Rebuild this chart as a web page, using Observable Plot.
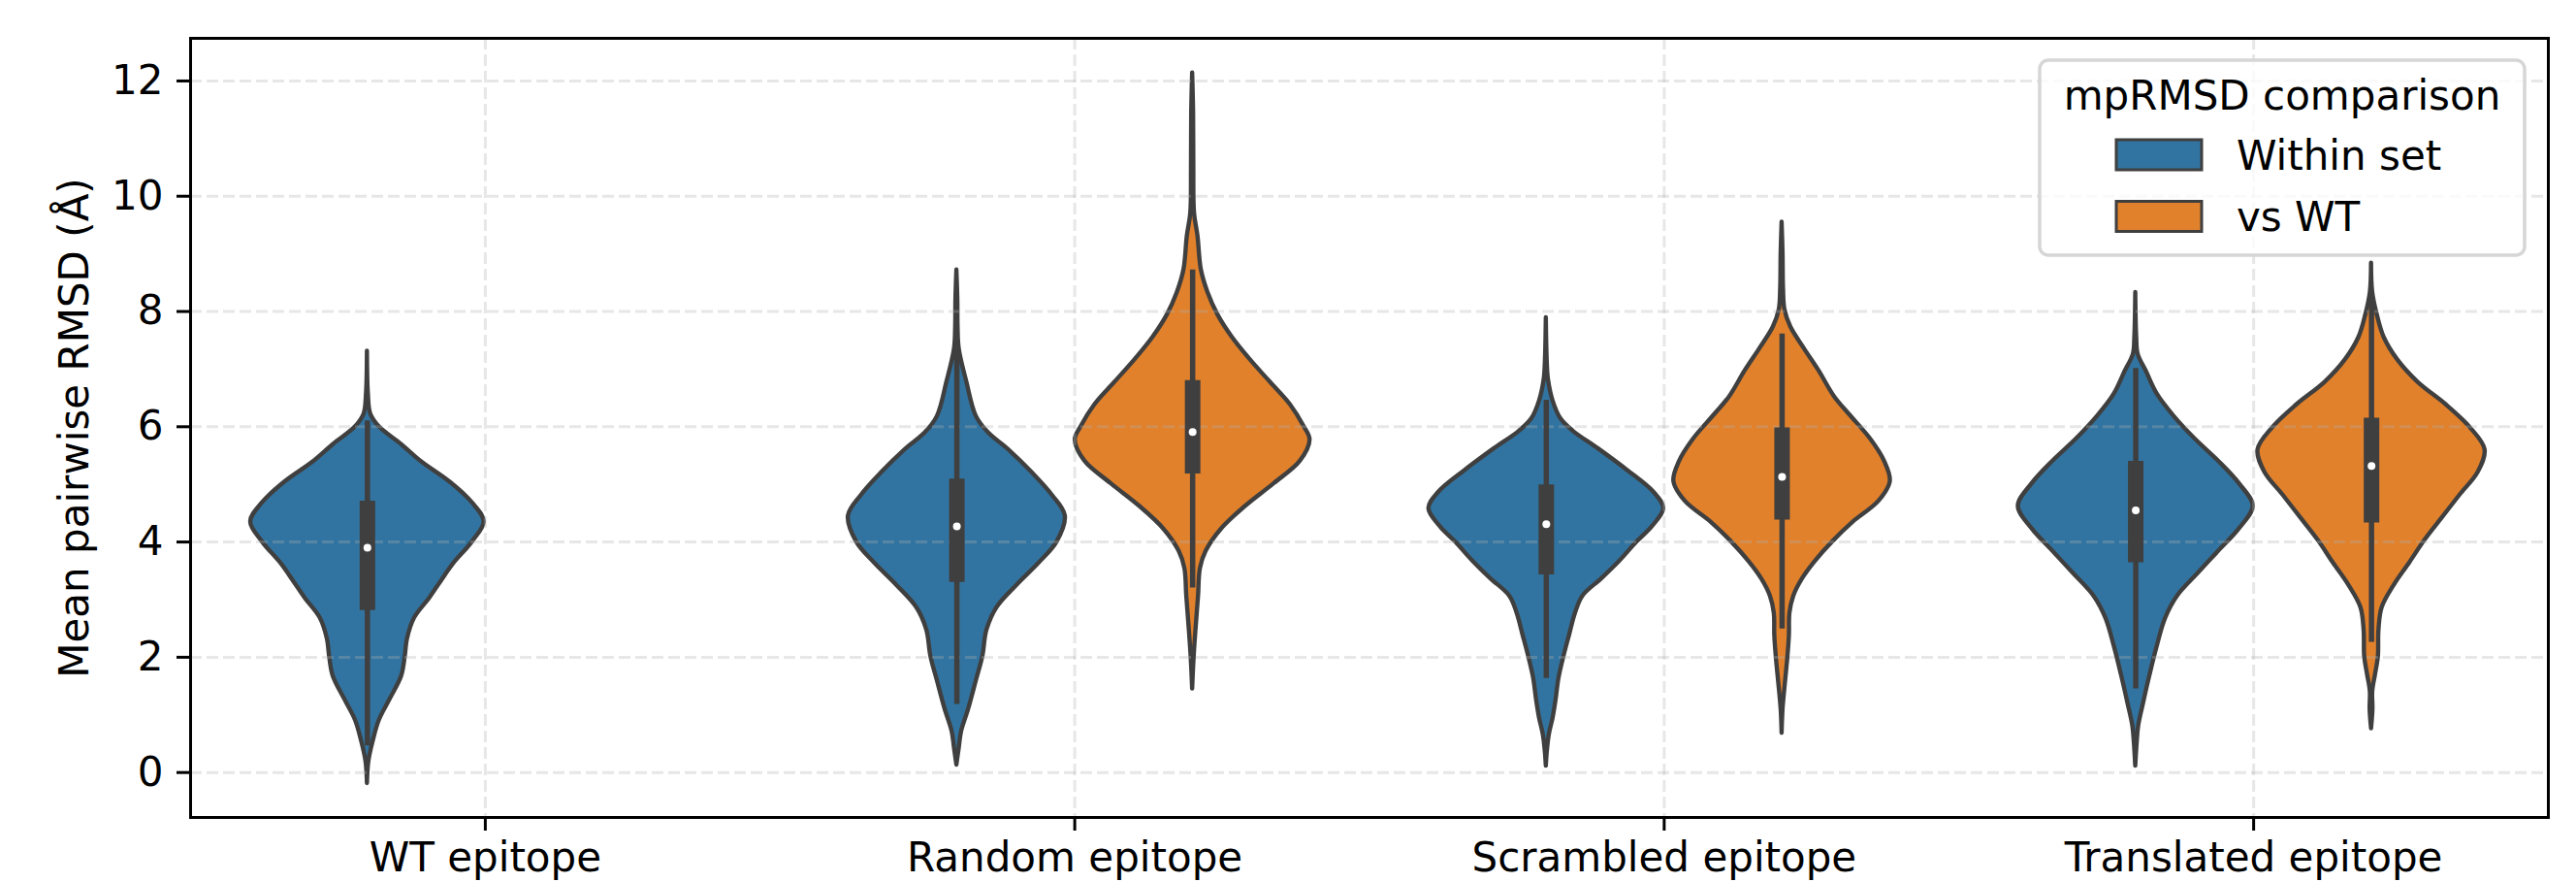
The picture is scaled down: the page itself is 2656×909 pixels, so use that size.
<!DOCTYPE html>
<html><head><meta charset="utf-8">
<script src="https://cdn.jsdelivr.net/npm/d3@7"></script>
<script src="https://cdn.jsdelivr.net/npm/@observablehq/plot@0.6"></script>
<style>
html,body{margin:0;padding:0;background:#fff;overflow:hidden}
#chart{position:relative;width:2656px;height:909px}
</style></head><body><div id="chart"></div>
<script>
// ---------- data ----------
const categories = ["WT epitope", "Random epitope", "Scrambled epitope", "Translated epitope"];
const hues = ["Within set", "vs WT"];
const hueColors = ["#3274a1", "#e1812c"];
const yTicks = [0, 2, 4, 6, 8, 10, 12];
const legendTitle = "mpRMSD comparison";
const yLabel = "Mean pairwise RMSD (Å)";

// violin outlines: [value, relative half-width (1 = widest violin)]
const wtWithin = [[7.31,0],[6.57,0.008],[6.22,0.028],[6.0,0.10],[5.69,0.29],[5.39,0.46],[5.04,0.70],[4.68,0.89],[4.35,0.99],[4.0,0.89],[3.62,0.73],[3.33,0.63],[3.03,0.53],[2.68,0.40],[2.32,0.34],[2.0,0.32],[1.67,0.29],[1.26,0.19],[0.90,0.10],[0.55,0.05],[0.19,0.012],[-0.19,0]];
const randomWithin = [[8.72,0],[8.2,0.008],[7.74,0.01],[7.35,0.02],[6.77,0.085],[6.18,0.165],[5.89,0.27],[5.60,0.44],[5.2,0.64],[4.81,0.81],[4.45,0.92],[4.0,0.85],[3.64,0.70],[3.25,0.51],[2.86,0.34],[2.47,0.255],[2.01,0.22],[1.59,0.165],[1.10,0.10],[0.71,0.04],[0.42,0.02],[0.13,0]];
const randomVsWT = [[12.14,0],[11.45,0.008],[10.48,0.01],[9.70,0.016],[9.31,0.045],[8.72,0.074],[8.33,0.13],[7.94,0.215],[7.55,0.337],[7.16,0.49],[6.77,0.66],[6.38,0.83],[6.0,0.946],[5.77,0.996],[5.40,0.913],[5.01,0.69],[4.62,0.45],[4.23,0.247],[3.84,0.115],[3.54,0.066],[3.06,0.05],[2.47,0.028],[1.98,0.012],[1.45,0]];
const scrambledWithin = [[7.89,0],[7.12,0.008],[6.82,0.018],[6.45,0.057],[6.14,0.123],[5.92,0.23],[5.62,0.44],[5.24,0.69],[4.86,0.914],[4.58,0.996],[4.26,0.897],[4.0,0.77],[3.66,0.62],[3.36,0.47],[3.06,0.31],[2.76,0.247],[2.38,0.197],[2.0,0.148],[1.63,0.107],[1.25,0.082],[0.95,0.058],[0.65,0.025],[0.35,0.008],[0.11,0]];
const scrambledVsWT = [[9.55,0],[9.0,0.008],[8.40,0.012],[8.03,0.024],[7.73,0.074],[7.35,0.19],[6.97,0.313],[6.52,0.445],[6.22,0.568],[5.77,0.757],[5.39,0.872],[5.05,0.918],[4.71,0.823],[4.34,0.601],[4.0,0.428],[3.66,0.28],[3.36,0.173],[3.06,0.099],[2.76,0.066],[2.38,0.062],[2.0,0.049],[1.55,0.028],[1.10,0.008],[0.68,0]];
const translatedWithin = [[8.33,0],[7.55,0.008],[7.26,0.02],[6.96,0.09],[6.57,0.181],[6.18,0.325],[5.79,0.502],[5.40,0.704],[5.01,0.88],[4.62,0.996],[4.23,0.88],[3.84,0.704],[3.45,0.527],[3.06,0.354],[2.67,0.252],[2.18,0.181],[1.69,0.121],[1.20,0.066],[0.81,0.025],[0.52,0.012],[0.11,0]];
const translatedVsWT = [[8.84,0],[8.33,0.01],[7.94,0.049],[7.55,0.107],[7.16,0.222],[6.77,0.395],[6.38,0.634],[5.99,0.835],[5.60,0.963],[5.21,0.905],[4.81,0.749],[4.42,0.601],[4.03,0.453],[3.64,0.325],[3.25,0.193],[2.86,0.09],[2.47,0.063],[2.01,0.058],[1.69,0.033],[1.40,0.01],[1.10,0.012],[0.76,0]];

const violinCategory = ["WT epitope", "Random epitope", "Random epitope", "Scrambled epitope", "Scrambled epitope", "Translated epitope", "Translated epitope"];
const violinHue = ["Within set", "Within set", "vs WT", "Within set", "vs WT", "Within set", "vs WT"];
const violinOutline = [wtWithin, randomWithin, randomVsWT, scrambledWithin, scrambledVsWT, translatedWithin, translatedVsWT];

// inner boxes
const whiskerLow  = [0.46, 1.18, 3.20, 1.63, 2.49, 1.45, 2.26];
const quartile1   = [2.81, 3.30, 5.18, 3.43, 4.38, 3.64, 4.33];
const medians     = [3.90, 4.27, 5.91, 4.31, 5.13, 4.55, 5.32];
const quartile3   = [4.71, 5.09, 6.80, 4.99, 5.98, 5.40, 6.15];
const whiskerHigh = [6.10, 7.35, 8.72, 6.46, 7.61, 7.01, 8.23];

// ---------- build tables ----------
const dodge = 0.2;      // offset of each hue within a category band
const halfMax = 0.2;    // widest half-width in band units
const center = (c, h) => categories.indexOf(c) + (hues.indexOf(h) === 0 ? -dodge : dodge);

const outlineRows = [];
violinOutline.forEach((pts, i) => {
  const cx = center(violinCategory[i], violinHue[i]);
  pts.forEach(([y, w]) => outlineRows.push({key: i, hue: violinHue[i], cx, y, w}));
});
const boxRows = violinCategory.map((c, i) => ({
  cx: center(c, violinHue[i]), lo: whiskerLow[i], q1: quartile1[i], med: medians[i], q3: quartile3[i], hi: whiskerHigh[i]
}));

const ink = "#3f3f3f";
const gridStyle = {stroke: "#b0b0b0", strokeOpacity: 0.3, strokeDasharray: "12,5", strokeWidth: 3};

const chart = Plot.plot({
  width: 2656, height: 909,
  marginLeft: 196, marginRight: 29, marginTop: 39, marginBottom: 67,
  style: {fontFamily: "DejaVu Sans", fontSize: "42px", color: "black", background: "white"},
  x: {domain: [-0.5, 3.5]},
  y: {domain: [-0.78, 12.74]},
  color: {domain: hues, range: hueColors},
  marks: [
    Plot.areaX(outlineRows, {
      y: "y", x1: d => d.cx - d.w * halfMax, x2: d => d.cx + d.w * halfMax,
      z: "key", fill: "hue", stroke: ink, strokeWidth: 4.4, strokeLinejoin: "round", curve: "catmull-rom"
    }),
    Plot.gridX([0, 1, 2, 3], gridStyle),
    Plot.gridY(yTicks, gridStyle),
    Plot.ruleX(boxRows, {x: "cx", y1: "lo", y2: "hi", stroke: ink, strokeWidth: 5.5}),
    Plot.ruleX(boxRows, {x: "cx", y1: "q1", y2: "q3", stroke: ink, strokeWidth: 16}),
    Plot.dot(boxRows, {x: "cx", y: "med", r: 4, fill: "white", stroke: null}),
    Plot.axisY(yTicks, {tickSize: 14, tickPadding: 14, fontSize: 42, strokeWidth: 3, tickFormat: d => String(d), label: null}),
    Plot.axisX([0, 1, 2, 3], {tickFormat: i => categories[i], tickSize: 14, tickPadding: 12, fontSize: 42, strokeWidth: 3, label: null}),
    Plot.text([yLabel], {frameAnchor: "left", dx: -119, rotate: -90, textAnchor: "middle", lineAnchor: "middle", fontSize: 42, fill: "black"}),
    Plot.frame({stroke: "black", strokeWidth: 3})
  ]
});
document.getElementById("chart").appendChild(chart);

// ---------- legend (inside the axes, upper right) ----------
const svg = d3.select(chart);
const lg = svg.append("g").attr("font-family", "DejaVu Sans").attr("font-size", 42).attr("text-anchor", "start");
lg.append("rect").attr("x", 2103).attr("y", 62).attr("width", 500).attr("height", 201).attr("rx", 9)
  .attr("fill", "white").attr("fill-opacity", 0.8).attr("stroke", "#d6d6d6").attr("stroke-width", 3.5);
lg.append("text").attr("x", 2353).attr("y", 113).attr("text-anchor", "middle").attr("fill", "black").text(legendTitle);
hues.forEach((h, i) => {
  lg.append("rect").attr("x", 2182).attr("y", 144 + i * 63.5).attr("width", 88).attr("height", 31)
    .attr("fill", hueColors[i]).attr("stroke", ink).attr("stroke-width", 3);
  lg.append("text").attr("x", 2306).attr("y", 175 + i * 62.7).attr("text-anchor", "start").attr("fill", "black").text(h);
});
</script></body></html>
